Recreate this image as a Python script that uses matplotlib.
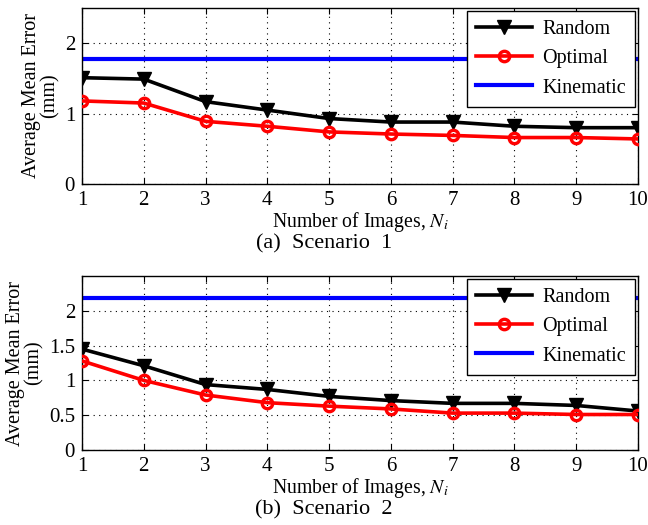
"""Average mean error vs number of images, two scenarios (MATLAB-style panels)."""

import matplotlib

matplotlib.use("Agg")
import matplotlib.pyplot as plt

plt.rcParams["font.family"] = ["Liberation Serif", "DejaVu Serif"]
plt.rcParams["mathtext.fontset"] = "stix"

n_images = [1, 2, 3, 4, 5, 6, 7, 8, 9, 10]

# Scenario 1
random_s1 = [1.51, 1.49, 1.17, 1.05, 0.93, 0.88, 0.88, 0.82, 0.80, 0.80]
optimal_s1 = [1.18, 1.15, 0.89, 0.82, 0.74, 0.71, 0.69, 0.66, 0.66, 0.64]
kinematic_s1 = 1.77

# Scenario 2
random_s2 = [1.45, 1.21, 0.94, 0.87, 0.77, 0.71, 0.67, 0.67, 0.64, 0.56]
optimal_s2 = [1.28, 1.00, 0.79, 0.68, 0.63, 0.59, 0.53, 0.53, 0.51, 0.51]
kinematic_s2 = 2.18

yticks_s1 = [0, 1, 2]
yticks_s2 = [0, 0.5, 1, 1.5, 2]
ytick_labels_s1 = ["0", "1", "2"]
ytick_labels_s2 = ["0", "0.5", "1", "1.5", "2"]

panels = [
    (random_s1, optimal_s1, kinematic_s1, yticks_s1, ytick_labels_s1, "(a)  Scenario  1"),
    (random_s2, optimal_s2, kinematic_s2, yticks_s2, ytick_labels_s2, "(b)  Scenario  2"),
]

fig = plt.figure(figsize=(6.48, 5.25), dpi=100)
W, H = 648, 525
# axes boxes in pixels: left, top, right, bottom
boxes = [(82, 8, 638, 184), (82, 276, 638, 450)]

for (rnd, opt, kin, yt, ytl, caption), (l, t, r, b) in zip(panels, boxes):
    ax = fig.add_axes([l / W, 1 - b / H, (r - l) / W, (b - t) / H])
    ax.axhline(kin, color="#0000ff", lw=3, label="Kinematic", zorder=2)
    ax.plot(n_images, rnd, color="black", lw=2.6, marker="v", ms=10,
            mfc="black", mec="black", label="Random", zorder=3)
    ax.plot(n_images, opt, color="#ff0000", lw=2.6, marker="o", ms=7.5,
            mfc="none", mec="#ff0000", mew=2.4, label="Optimal", zorder=4)
    ax.set_xlim(1, 10)
    ax.set_ylim(0, 2.5)
    ax.set_xticks(n_images)
    ax.set_yticks(yt, ytl)
    ax.tick_params(direction="in", top=True, right=True, labelsize=15,
                   length=4, pad=5)
    ax.grid(True, color="black", linestyle=(0, (1, 4)), lw=0.8)
    for s in ax.spines.values():
        s.set_linewidth(1.0)
    ax.set_ylabel("Average Mean Error\n(mm)", fontsize=14.5, linespacing=0.95,
                  labelpad=4)
    ax.set_xlabel("Number of Images, $N_i$", fontsize=14.2, labelpad=0)
    handles, labels = ax.get_legend_handles_labels()
    order = [1, 2, 0]
    leg = ax.legend([handles[i] for i in order], [labels[i] for i in order],
                    loc="upper right", fontsize=14.5, fancybox=False,
                    framealpha=1, edgecolor="black", handlelength=2.8,
                    borderpad=0.45, labelspacing=0.5, borderaxespad=0.15,
                    handletextpad=0.5)
    leg.get_frame().set_linewidth(1.0)
    fig.text(324 / W, 1 - (b + 60) / H, caption, fontsize=16,
             ha="center", va="center")

fig.savefig("out.png", dpi=100)
